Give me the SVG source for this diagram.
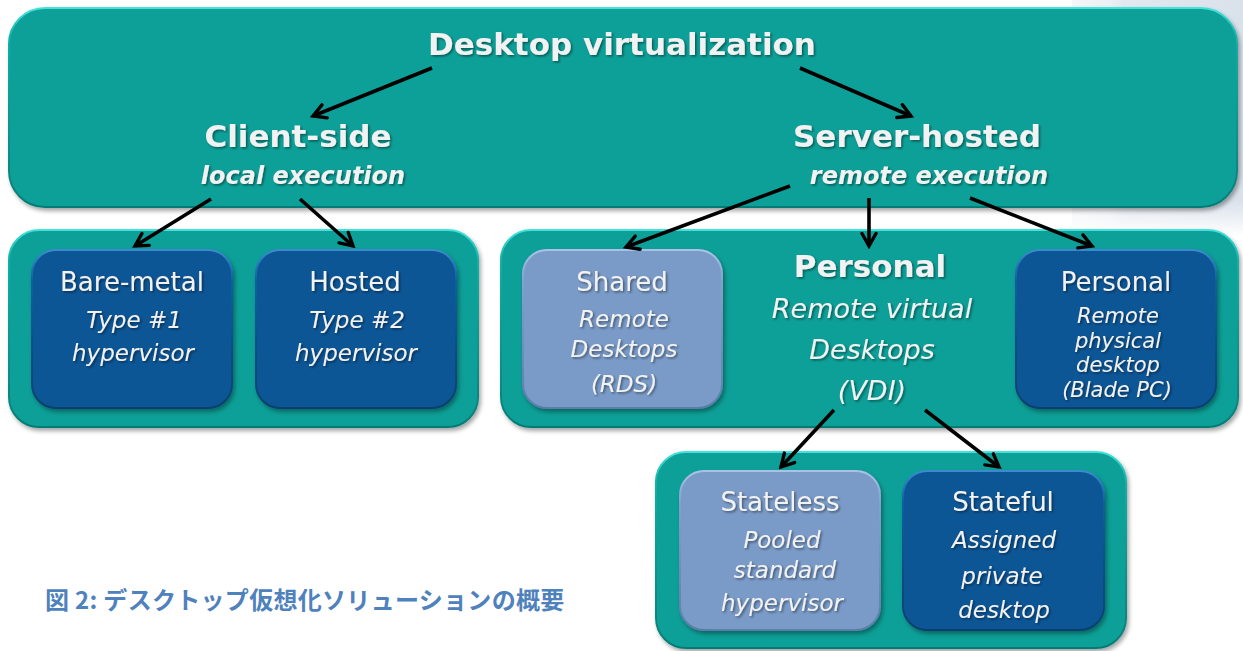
<svg xmlns="http://www.w3.org/2000/svg" width="1243" height="651" viewBox="0 0 1243 651">
<defs>
<style>
.teal{fill:#07A098;stroke:url(#tealEdge);stroke-width:2;filter:url(#boxShadow)}
.dark{fill:#0B5696;stroke:url(#darkEdge);stroke-width:2;filter:url(#boxShadow)}
.light{fill:#7A9BC8;stroke:url(#lightEdge);stroke-width:2;filter:url(#boxShadow)}
text{font-family:"DejaVu Sans","Verdana",sans-serif;fill:#F2F2F2;text-anchor:middle;filter:url(#txtShadow)}
.h1{font-size:31px;font-weight:bold}
.h2{font-size:31px;font-weight:bold}
.sub{font-size:24px;font-weight:bold;font-style:italic}
.t{font-size:26px}
.i{font-size:23px;font-style:italic}
.ib{font-size:27px;font-style:italic}
.is{font-size:21px;font-style:italic}
.cap{font-family:"Noto Sans CJK JP","DejaVu Sans",sans-serif;font-size:24px;font-weight:bold;fill:#4F81BD;text-anchor:start;filter:none;letter-spacing:0.3px}
.conn line{stroke:#000;stroke-width:3.6;marker-end:url(#arr)}
</style>
<linearGradient id="tealEdge" x1="0" y1="0" x2="0" y2="1">
<stop offset="0" stop-color="#45E2DA"/><stop offset="0.15" stop-color="#12B0A8"/><stop offset="1" stop-color="#067C76"/>
</linearGradient>
<linearGradient id="darkEdge" x1="0" y1="0" x2="0" y2="1">
<stop offset="0" stop-color="#3C8AD0"/><stop offset="0.2" stop-color="#0D5FA3"/><stop offset="1" stop-color="#073E70"/>
</linearGradient>
<linearGradient id="lightEdge" x1="0" y1="0" x2="0" y2="1">
<stop offset="0" stop-color="#A9C3E6"/><stop offset="0.2" stop-color="#80A2CD"/><stop offset="1" stop-color="#5B7DAA"/>
</linearGradient>
<linearGradient id="bgPatch" x1="0" y1="0" x2="1" y2="0">
<stop offset="0" stop-color="#F4F6F8"/><stop offset="0.22" stop-color="#EDF0F4"/><stop offset="0.3" stop-color="#E2E8EF"/><stop offset="1" stop-color="#D9E1EB"/>
</linearGradient>
<linearGradient id="bgFade" x1="0" y1="0" x2="0" y2="1">
<stop offset="0" stop-color="#fff" stop-opacity="0"/><stop offset="0.85" stop-color="#fff" stop-opacity="0"/><stop offset="1" stop-color="#fff" stop-opacity="1"/>
</linearGradient>
<filter id="boxShadow" x="-5%" y="-5%" width="110%" height="115%">
<feDropShadow dx="2" dy="3" stdDeviation="2" flood-color="#000" flood-opacity="0.35"/>
</filter>
<filter id="txtShadow" x="-5%" y="-20%" width="110%" height="150%">
<feDropShadow dx="1.5" dy="1.5" stdDeviation="1" flood-color="#000" flood-opacity="0.45"/>
</filter>
<marker id="arr" viewBox="0 0 18 18" markerWidth="18" markerHeight="18" refX="15" refY="9" orient="auto" markerUnits="userSpaceOnUse">
<path d="M2.5,2 L15,9 L2.5,16" fill="none" stroke="#000" stroke-width="3.4" stroke-linecap="round" stroke-linejoin="miter"/>
</marker>
</defs>
<rect width="1243" height="651" fill="#FFFFFF"/>
<rect x="1072" y="0" width="171" height="236" fill="url(#bgPatch)"/>
<rect x="1072" y="0" width="171" height="236" fill="url(#bgFade)"/>

<g id="top">
<rect class="teal" x="9" y="8" width="1228" height="199" rx="36"/>
<text class="h1" x="622" y="55">Desktop virtualization</text>
<text class="h2" x="298" y="147">Client-side</text>
<text class="sub" x="303" y="184">local execution</text>
<text class="h2" x="917" y="147">Server-hosted</text>
<text class="sub" x="929" y="184">remote execution</text>
</g>

<g id="client-container">
<rect class="teal" x="9" y="230" width="469" height="197" rx="30"/>
</g>
<g id="bare-metal">
<rect class="dark" x="32" y="250" width="200" height="158" rx="24"/>
<text class="t" x="132" y="291">Bare-metal</text>
<text class="i" x="134" y="328">Type #1</text>
<text class="i" x="133" y="361">hypervisor</text>
</g>
<g id="hosted">
<rect class="dark" x="256" y="250" width="200" height="158" rx="24"/>
<text class="t" x="355" y="291">Hosted</text>
<text class="i" x="357" y="328">Type #2</text>
<text class="i" x="356" y="361">hypervisor</text>
</g>

<g id="server-container">
<rect class="teal" x="501" y="230" width="737" height="197" rx="30"/>
<text class="h2" x="870" y="277">Personal</text>
<text class="ib" x="872" y="318">Remote virtual</text>
<text class="ib" x="872" y="359">Desktops</text>
<text class="ib" x="872" y="400">(VDI)</text>
</g>
<g id="shared">
<rect class="light" x="523" y="250" width="199" height="158" rx="24"/>
<text class="t" x="622" y="291">Shared</text>
<text class="i" x="624" y="327">Remote</text>
<text class="i" x="624" y="357">Desktops</text>
<text class="i" x="624" y="392">(RDS)</text>
</g>
<g id="personal-physical">
<rect class="dark" x="1016" y="250" width="200" height="158" rx="24"/>
<text class="t" x="1116" y="291">Personal</text>
<text class="is" x="1118" y="323">Remote</text>
<text class="is" x="1118" y="348">physical</text>
<text class="is" x="1118" y="372">desktop</text>
<text class="is" x="1117" y="397">(Blade PC)</text>
</g>

<g id="vdi-container">
<rect class="teal" x="656" y="452" width="470" height="196" rx="30"/>
</g>
<g id="stateless">
<rect class="light" x="680" y="471" width="200" height="159" rx="24"/>
<text class="t" x="780" y="511">Stateless</text>
<text class="i" x="782" y="548">Pooled</text>
<text class="i" x="785" y="578">standard</text>
<text class="i" x="782" y="611">hypervisor</text>
</g>
<g id="stateful">
<rect class="dark" x="903" y="471" width="201" height="159" rx="24"/>
<text class="t" x="1003" y="511">Stateful</text>
<text class="i" x="1004" y="548">Assigned</text>
<text class="i" x="1002" y="584">private</text>
<text class="i" x="1004" y="618">desktop</text>
</g>

<g id="connectors" class="conn">
<line x1="432" y1="68" x2="313" y2="116"/>
<line x1="800" y1="68" x2="911" y2="116"/>
<line x1="211" y1="199" x2="135" y2="246"/>
<line x1="300" y1="199" x2="353" y2="246"/>
<line x1="790" y1="186" x2="626" y2="247"/>
<line x1="869" y1="198" x2="869" y2="246"/>
<line x1="970" y1="198" x2="1092" y2="246"/>
<line x1="834" y1="410" x2="781" y2="467"/>
<line x1="925" y1="410" x2="999" y2="467"/>
</g>

<text class="cap" x="45" y="609">図 2: デスクトップ仮想化ソリューションの概要</text>
</svg>
